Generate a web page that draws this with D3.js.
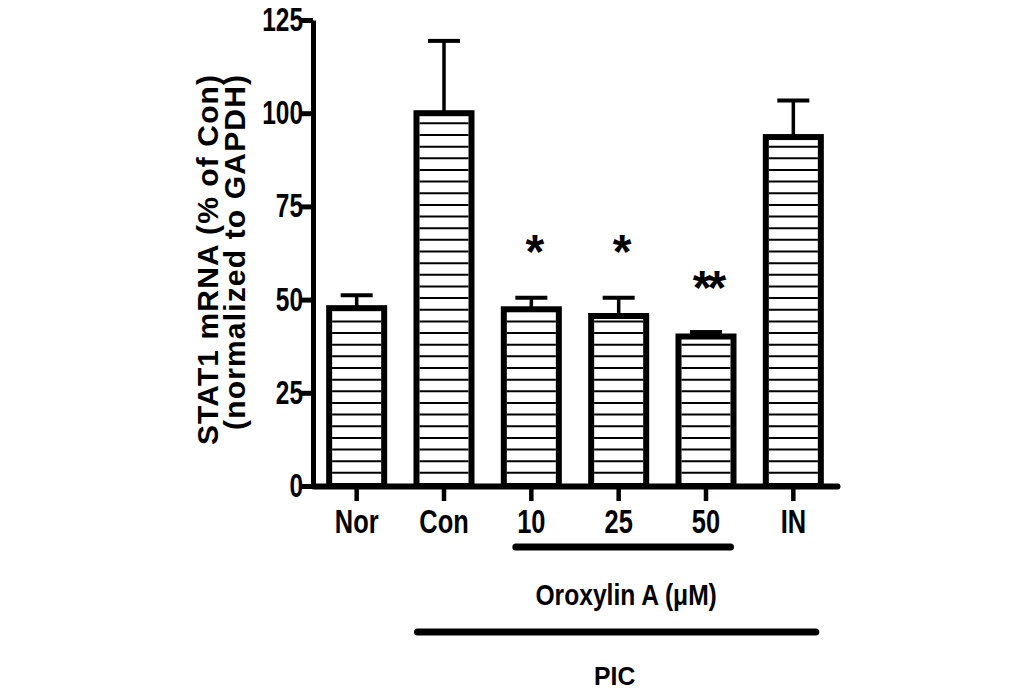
<!DOCTYPE html>
<html>
<head>
<meta charset="utf-8">
<script src="https://cdn.jsdelivr.net/npm/d3@7"></script>
<style>
  html, body { margin: 0; padding: 0; background: #fff; }
  svg { display: block; }
  text { font-family: "Liberation Sans", Arial, sans-serif; font-weight: bold; fill: #000; }
</style>
</head>
<body>
<svg id="chart" width="1033" height="694"></svg>
<script>
// ---- data ----
const categories = ["Nor", "Con", "10", "25", "50", "IN"];
const means      = [47.7, 100, 47.4, 45.6, 40.1, 93.6];
const upperErr   = [51.2, 119.4, 50.5, 50.5, 41.3, 103.4];
const stars      = ["", "", "*", "*", "**", ""];
const starLevel  = [null, null, 64.8, 64.8, 55.3, null];
const yTicks     = [0, 25, 50, 75, 100, 125];
const yLabel1    = "STAT1 mRNA (% of Con)";
const yLabel2    = "(normalized to GAPDH)";
const groupLabel = "Oroxylin A (\u03BCM)";
const groupCats  = ["10", "50"];
const picLabel   = "PIC";
const picCats    = ["Con", "IN"];
const hatchStep  = 3.125;

// ---- layout ----
const svg = d3.select("#chart");
const x = d3.scaleBand().domain(categories).range([313, 837]).paddingInner(0.37).paddingOuter(0.185);
const y = d3.scaleLinear().domain([0, 125]).range([486, 20]);
const bw = x.bandwidth();

function condense(sel, f) {
  sel.each(function () {
    const l = this.getComputedTextLength();
    d3.select(this).attr("textLength", l * f).attr("lengthAdjust", "spacingAndGlyphs");
  });
}

const data = categories.map((c, i) => ({ c, v: means[i], e: upperErr[i], s: stars[i], sl: starLevel[i] }));

// error bars (behind bars)
const eg = svg.append("g");
eg.selectAll("line.ev").data(data).join("line")
  .attr("x1", d => x(d.c) + bw / 2).attr("x2", d => x(d.c) + bw / 2)
  .attr("y1", d => y(d.v)).attr("y2", d => y(d.e))
  .attr("stroke", "#000").attr("stroke-width", 3.5);
eg.selectAll("line.ec").data(data).join("line")
  .attr("x1", d => x(d.c) + bw / 2 - 16).attr("x2", d => x(d.c) + bw / 2 + 16)
  .attr("y1", d => y(d.e)).attr("y2", d => y(d.e))
  .attr("stroke", "#000").attr("stroke-width", 4);

// bars
const bg = svg.append("g");
bg.selectAll("rect").data(data).join("rect")
  .attr("x", d => x(d.c)).attr("width", bw)
  .attr("y", d => y(d.v)).attr("height", d => y(0) - y(d.v))
  .attr("fill", "#fff").attr("stroke", "#000").attr("stroke-width", 6);

// hatching
data.forEach(d => {
  const levels = d3.range(0.4 + hatchStep, d.v - 1.2, hatchStep);
  bg.append("g").selectAll("line").data(levels).join("line")
    .attr("x1", x(d.c) + 3).attr("x2", x(d.c) + bw - 3)
    .attr("y1", v => y(v)).attr("y2", v => y(v))
    .attr("stroke", "#000").attr("stroke-width", 2);
});

// axes
const yAxis = svg.append("g").attr("transform", "translate(313,0)")
  .call(d3.axisLeft(y).tickValues(yTicks).tickSize(13).tickSizeOuter(0).tickPadding(-3));
yAxis.select(".domain").attr("stroke-width", 5);
yAxis.selectAll(".tick line").attr("stroke-width", 5);
yAxis.selectAll(".tick text").attr("font-size", 33).attr("font-family", null).call(condense, 0.74);

const xAxis = svg.append("g").attr("transform", `translate(0,${y(0)})`)
  .call(d3.axisBottom(x).tickSize(15).tickSizeOuter(0).tickPadding(9));
xAxis.select(".domain").attr("stroke-width", 6).attr("stroke-linecap", "round");
xAxis.selectAll(".tick line").attr("stroke-width", 4.5);
xAxis.selectAll(".tick text").attr("font-size", 33).attr("font-family", null).call(condense, 0.77);
svg.selectAll(".domain, .tick line").attr("stroke", "#000");
svg.selectAll(".tick text").attr("fill", "#000");

// significance stars
svg.append("g").selectAll("text").data(data.filter(d => d.s)).join("text")
  .attr("x", d => x(d.c) + bw / 2 + (d.s.length > 1 ? 1.5 : 3.5))
  .attr("y", d => y(d.sl) + 24)
  .attr("text-anchor", "middle").attr("font-size", 48)
  .attr("letter-spacing", d => d.s.length > 1 ? -4 : 0)
  .text(d => d.s);

// y label
const yl = svg.append("g");
yl.append("text").attr("transform", "translate(218,75) rotate(-90)")
  .attr("text-anchor", "end").attr("font-size", 30)
  .attr("textLength", 370).attr("lengthAdjust", "spacing").text(yLabel1);
yl.append("text").attr("transform", "translate(245,75) rotate(-90)")
  .attr("text-anchor", "end").attr("font-size", 30)
  .attr("textLength", 355).attr("lengthAdjust", "spacing").text(yLabel2);

// group annotations
const gx1 = x(groupCats[0]) + 12, gx2 = x(groupCats[1]) + bw - 3;
svg.append("line").attr("x1", gx1).attr("x2", gx2).attr("y1", 547).attr("y2", 547)
  .attr("stroke", "#000").attr("stroke-width", 7).attr("stroke-linecap", "round");
svg.append("text").attr("x", (gx1 + gx2) / 2 + 3).attr("y", 605)
  .attr("text-anchor", "middle").attr("font-size", 30).text(groupLabel).call(condense, 0.82);

const px1 = x(picCats[0]) + 1, px2 = x(picCats[1]) + bw - 5;
svg.append("line").attr("x1", px1).attr("x2", px2).attr("y1", 632).attr("y2", 632)
  .attr("stroke", "#000").attr("stroke-width", 7).attr("stroke-linecap", "round");
svg.append("text").attr("x", (px1 + px2) / 2 - 2).attr("y", 685)
  .attr("text-anchor", "middle").attr("font-size", 26).text(picLabel).call(condense, 0.95);
</script>
</body>
</html>
